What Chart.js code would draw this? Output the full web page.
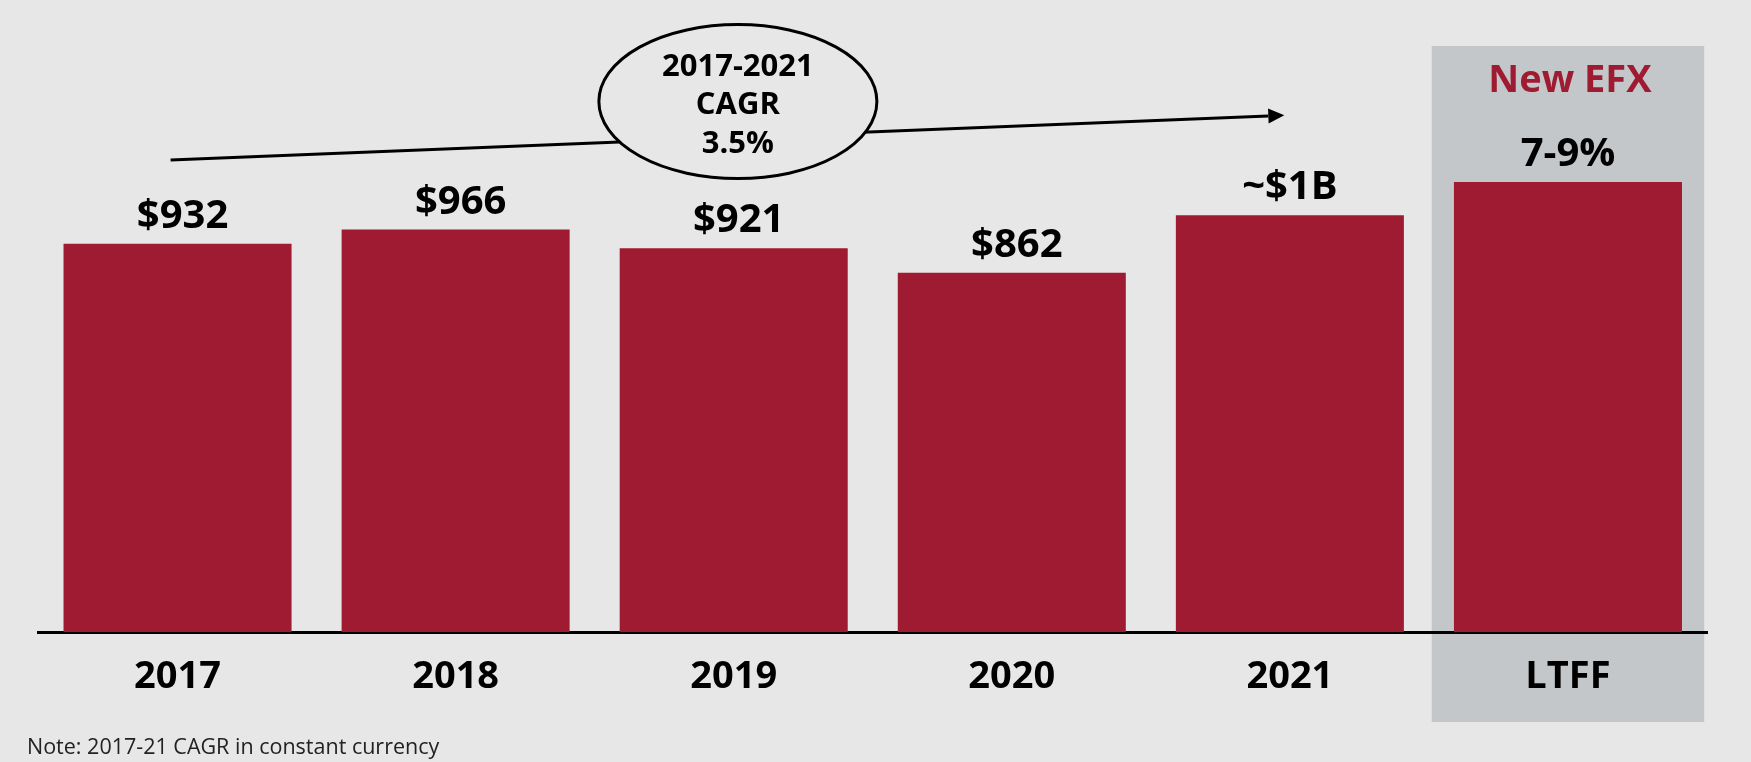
<!DOCTYPE html>
<html>
<head>
<meta charset="utf-8">
<script src="https://cdn.jsdelivr.net/npm/chart.js@4"></script>
<style>
  html, body { margin: 0; padding: 0; background: #e7e7e7; }
  #wrap { position: relative; width: 1751px; height: 762px; }
  canvas { display: block; }
</style>
</head>
<body>
<div id="wrap"><canvas id="c" width="1751" height="762"></canvas></div>
<script>
// Revenue by year ($M) with long-term growth framework column
const categories = ['2017', '2018', '2019', '2020', '2021', 'LTFF'];
const revenue = [932, 966, 921, 862, 1000, 1080];
const valueLabels = ['$932', '$966', '$921', '$862', '~$1B', '7-9%'];
const cagrLines = ['2017-2021', 'CAGR', '3.5%'];
const highlightLabel = 'New EFX';
const noteText = 'Note: 2017-21 CAGR in constant currency';

// CAGR arrow and bubble anchors, in (category index, value) units
const arrowFrom = [-0.025, 1133];
const arrowTo = [3.98, 1240];
const bubbleAt = [2.015, 1273];

const RED = '#9e1b32';
const FONT = '"Open Sans", "DejaVu Sans", sans-serif';

const decorations = {
  id: 'decorations',
  beforeDraw(chart) {
    // shaded panel behind the LTFF column
    const ctx = chart.ctx;
    const x = chart.scales.x;
    const last = categories.length - 1;
    const cx = x.getPixelForValue(last);
    const half = (x.getPixelForValue(1) - x.getPixelForValue(0)) * 0.49;
    ctx.save();
    ctx.fillStyle = '#c4c7ca';
    ctx.fillRect(cx - half, 46, half * 2, 722 - 46);
    ctx.restore();
  },
  afterDatasetsDraw(chart) {
    const ctx = chart.ctx;
    const xs = chart.scales.x, ys = chart.scales.y;
    const meta = chart.getDatasetMeta(0);
    ctx.save();

    // value labels above the bars
    ctx.fillStyle = '#000';
    ctx.textAlign = 'center';
    ctx.textBaseline = 'alphabetic';
    ctx.font = `bold 40px ${FONT}`;
    meta.data.forEach((bar, i) => {
      const label = valueLabels[i];
      const dx = label.startsWith('$') ? 5 : 0;
      ctx.fillText(label, bar.x + dx, bar.y - 16);
    });

    // column heading in the shaded panel
    const lastBar = meta.data[meta.data.length - 1];
    ctx.fillStyle = RED;
    ctx.font = `bold 38px ${FONT}`;
    ctx.fillText(highlightLabel, lastBar.x + 2, 92);

    // CAGR arrow
    const x0 = xs.getPixelForValue(arrowFrom[0]), y0 = ys.getPixelForValue(arrowFrom[1]);
    const x1 = xs.getPixelForValue(arrowTo[0]), y1 = ys.getPixelForValue(arrowTo[1]);
    const ang = Math.atan2(y1 - y0, x1 - x0);
    const headLen = 16, headHalf = 7.5;
    const bx = x1 - headLen * Math.cos(ang), by = y1 - headLen * Math.sin(ang);
    ctx.strokeStyle = '#000';
    ctx.lineWidth = 3;
    ctx.beginPath();
    ctx.moveTo(x0, y0);
    ctx.lineTo(bx, by);
    ctx.stroke();
    ctx.fillStyle = '#000';
    ctx.beginPath();
    ctx.moveTo(x1, y1);
    ctx.lineTo(bx + headHalf * Math.sin(ang), by - headHalf * Math.cos(ang));
    ctx.lineTo(bx - headHalf * Math.sin(ang), by + headHalf * Math.cos(ang));
    ctx.closePath();
    ctx.fill();

    // CAGR bubble
    const cx = xs.getPixelForValue(bubbleAt[0]), cy = ys.getPixelForValue(bubbleAt[1]);
    ctx.beginPath();
    ctx.ellipse(cx, cy, 139, 77, 0, 0, Math.PI * 2);
    ctx.fillStyle = '#e7e7e7';
    ctx.fill();
    ctx.lineWidth = 3;
    ctx.strokeStyle = '#000';
    ctx.stroke();
    ctx.fillStyle = '#000';
    ctx.font = `bold 31px ${FONT}`;
    cagrLines.forEach((t, i) => {
      ctx.fillText(t, cx, cy + 12.5 + (i - 1) * 38.5);
    });

    // footnote
    ctx.textAlign = 'left';
    ctx.fillStyle = '#222';
    ctx.font = `21.5px ${FONT}`;
    ctx.fillText(noteText, 27, 754);

    ctx.restore();
  }
};

new Chart(document.getElementById('c'), {
  type: 'bar',
  data: {
    labels: categories,
    datasets: [{
      data: revenue,
      backgroundColor: RED,
      borderWidth: 0,
      barPercentage: 0.82,
      categoryPercentage: 1.0
    }]
  },
  options: {
    responsive: false,
    animation: false,
    devicePixelRatio: 1,
    layout: { padding: { left: 38.5, right: 44, top: 132, bottom: 0 } },
    plugins: { legend: { display: false }, tooltip: { enabled: false } },
    scales: {
      x: {
        grid: { display: false, drawTicks: false },
        border: { display: true, color: '#000', width: 3 },
        ticks: {
          color: '#000',
          font: { family: FONT, size: 38, weight: 'bold' },
          padding: 22.5,
          maxRotation: 0,
          autoSkip: false
        },
        afterFit(scale) { scale.height = 130; }
      },
      y: { display: false, min: 0, max: 1200 }
    }
  },
  plugins: [decorations]
});
</script>
</body>
</html>
